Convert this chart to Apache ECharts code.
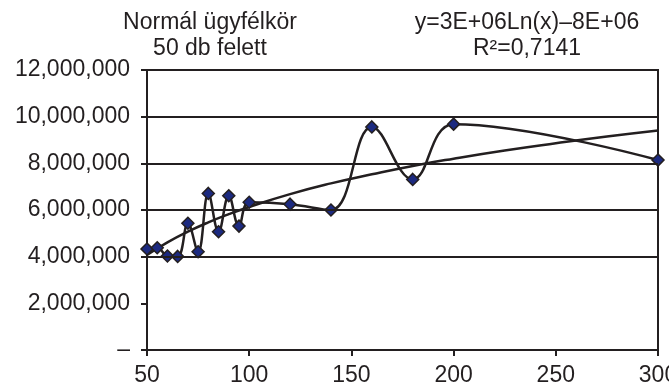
<!DOCTYPE html>
<html>
<head>
<meta charset="utf-8">
<style>
  html, body { margin: 0; padding: 0; background: #fff; }
  #chart { width: 669px; height: 392px; }
</style>
<script src="https://cdn.jsdelivr.net/npm/echarts@6.0.0/dist/echarts.min.js"></script>
</head>
<body>
<div id="chart"></div>
<script>
  // ügyfélszám (x) és érték (y)
  var xValues = [50, 55, 60, 65, 70, 75, 80, 85, 90, 95, 100, 120, 140, 160, 180, 200, 300]
  var yValues = [4330000, 4380000, 4030000, 4010000, 5430000, 4210000, 6710000, 5070000,
    6610000, 5310000, 6330000, 6250000, 6000000, 9560000, 7310000, 9680000, 8140000]

  // logaritmikus trendvonal pontjai, leolvasva
  var trendX = [50, 60, 70, 80, 90, 100, 120, 140, 160, 180, 200, 225, 250, 275, 300]
  var trendY = [4070000, 4610000, 5070000, 5470000, 5820000, 6130000, 6680000, 7140000,
    7530000, 7890000, 8200000, 8550000, 8860000, 9150000, 9410000]

  var xTicks = [50, 100, 150, 200, 250, 300]
  var yTicks = [0, 2000000, 4000000, 6000000, 8000000, 10000000, 12000000]

  var titleLines = ['Normál ügyfélkör', '50 db felett']
  var trendLines = ['y=3E+06Ln(x)–8E+06', 'R²=0,7141']

  var font = '"Liberation Sans", Arial, Helvetica, sans-serif'
  var ink = '#231f20'

  function fmt(v) {
    if (v === 0) {
      return '–'
    }
    return String(v).replace(/\B(?=(\d{3})+(?!\d))/g, ',')
  }

  var chart = echarts.init(document.getElementById('chart'))
  chart.setOption({
    backgroundColor: '#fff',
    animation: false,
    grid: {
      left: 147,
      right: 11,
      top: 70,
      bottom: 42,
      show: true,
      borderColor: ink,
      borderWidth: 2,
      containLabel: false,
      outerBoundsMode: 'none'
    },
    xAxis: {
      type: 'value',
      min: xTicks[0],
      max: xTicks[xTicks.length - 1],
      interval: 50,
      axisLine: { show: true, onZero: false, lineStyle: { color: ink, width: 2 } },
      axisTick: { show: true, inside: false, length: 6, lineStyle: { color: ink, width: 2 } },
      axisLabel: { color: ink, fontFamily: font, fontSize: 23, margin: 14 },
      splitLine: { show: false }
    },
    yAxis: {
      type: 'value',
      min: yTicks[0],
      max: yTicks[yTicks.length - 1],
      interval: 2000000,
      axisLine: { show: true, lineStyle: { color: ink, width: 2 } },
      axisTick: { show: true, inside: false, length: 6, lineStyle: { color: ink, width: 2 } },
      axisLabel: { color: ink, fontFamily: font, fontSize: 23, margin: 17, formatter: fmt },
      splitLine: { show: false }
    },
    graphic: [
      {
        type: 'text', x: 210, y: 10,
        style: {
          text: titleLines.join('\n'), align: 'center', verticalAlign: 'top',
          font: '23px ' + font, fill: ink, lineHeight: 26
        }
      },
      {
        type: 'text', x: 527, y: 10,
        style: {
          text: trendLines.join('\n'), align: 'center', verticalAlign: 'top',
          font: '23px ' + font, fill: ink, lineHeight: 26
        }
      }
    ],
    series: [
      {
        name: 'grid',
        type: 'line',
        data: [],
        silent: true,
        markLine: {
          silent: true,
          symbol: 'none',
          label: { show: false },
          lineStyle: { color: ink, width: 2, type: 'solid' },
          data: yTicks.slice(2, 6).map(function (v) { return { yAxis: v } })
        }
      },
      {
        name: 'trend',
        type: 'line',
        data: trendX.map(function (x, i) { return [x, trendY[i]] }),
        smooth: true,
        showSymbol: false,
        lineStyle: { color: ink, width: 2.5 },
        z: 3
      },
      {
        name: 'ügyfélkör',
        type: 'line',
        data: xValues.map(function (x, i) { return [x, yValues[i]] }),
        smooth: 0.4,
        symbol: 'diamond',
        symbolSize: 12,
        itemStyle: { color: '#1c2a80', borderColor: ink, borderWidth: 1.5 },
        lineStyle: { color: ink, width: 2.5 },
        z: 4
      }
    ]
  })
</script>
</body>
</html>
